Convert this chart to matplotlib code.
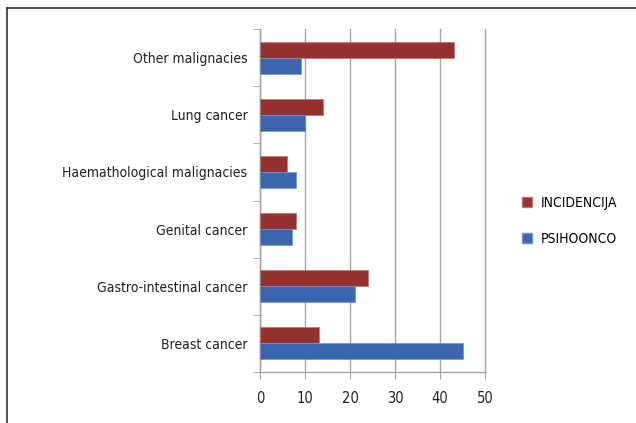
import matplotlib
matplotlib.use("Agg")
import matplotlib.pyplot as plt
import numpy as np
from matplotlib.lines import Line2D
from matplotlib.patches import Patch
from matplotlib import font_manager

categories = ["Breast cancer", "Gastro-intestinal cancer", "Genital cancer",
              "Haemathological malignacies", "Lung cancer", "Other malignacies"]
incidencija = [13, 24, 8, 6, 14, 43]
psihoonco = [45, 21, 7, 8, 10, 9]
series_names = ["INCIDENCIJA", "PSIHOONCO"]
xticks = [0, 10, 20, 30, 40, 50]

names = {f.name for f in font_manager.fontManager.ttflist}
fam = ['Liberation Sans Narrow'] if 'Liberation Sans Narrow' in names else []
plt.rcParams['font.family'] = fam + ['DejaVu Sans']
plt.rcParams['font.stretch'] = 'condensed'
fs = 10.5 if fam else 10

red = '#953230'
blue = '#3d66b0'
grid = '#a6a6a6'

fig = plt.figure(figsize=(6.36, 4.23), dpi=100)
ax = fig.add_axes([260/636, 1-372/423, 225/636, 343/423])

y = np.arange(len(categories))
h = 0.28
ax.barh(y + h/2, incidencija, height=h, color=red, edgecolor='#c07070', linewidth=0.5, zorder=3)
ax.barh(y - h/2, psihoonco, height=h, color=blue, edgecolor='#7090d0', linewidth=0.5, zorder=3)

ax.set_xlim(0, 50)
ax.set_ylim(-0.5, len(categories) - 0.5)
ax.set_xticks(xticks)
ax.set_xticklabels([str(t) for t in xticks], fontsize=fs + 0.5, color='#222222')
ax.set_yticks(y)
ax.set_yticklabels(categories, fontsize=fs, color='#222222')
ax.tick_params(axis='y', length=0, pad=9)
ax.tick_params(axis='x', length=5, color=grid, direction='out', pad=9)
ax.set_yticks(np.arange(-0.5, len(categories), 1), minor=True)
ax.tick_params(axis='y', which='minor', length=5, color=grid)
for t in xticks:
    ax.axvline(t, color=grid, linewidth=1, zorder=0, clip_on=False)
for s in ['top', 'right']:
    ax.spines[s].set_visible(False)
for s in ['left', 'bottom']:
    ax.spines[s].set_color(grid)
    ax.spines[s].set_linewidth(1)

handles = [Patch(facecolor=red, edgecolor='#c07070'), Patch(facecolor=blue, edgecolor='#7090d0')]
fig.legend(handles, series_names, loc='center left', bbox_to_anchor=(509/636, 1-221/423),
           frameon=False, fontsize=fs, handlelength=0.75, handleheight=0.75,
           labelspacing=1.6, handletextpad=0.6)

# outer frame
fig.add_artist(Line2D([7/636, 1], [1-8/423, 1-8/423], transform=fig.transFigure, color='#333333', linewidth=1.2))
fig.add_artist(Line2D([7/636, 7/636], [0, 1-8/423], transform=fig.transFigure, color='#333333', linewidth=1.2))

fig.savefig("out.png", dpi=100)
